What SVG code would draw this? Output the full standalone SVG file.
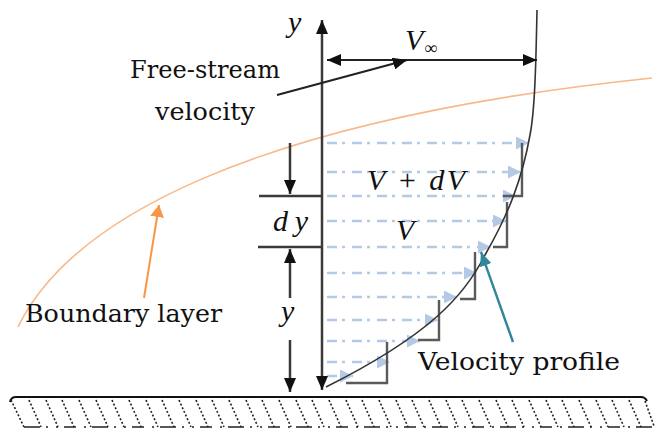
<svg xmlns="http://www.w3.org/2000/svg" width="655" height="433" viewBox="0 0 655 433">
<style>
.lbl{font-family:'DejaVu Serif',serif;font-size:23.5px;fill:#111}
.math{font-family:'Liberation Serif','Times New Roman',serif;font-style:italic;font-size:30px;fill:#111}
.ax{stroke:#3a3a3a;stroke-width:2.5;fill:none}
.blk{stroke:#222;stroke-width:2.2;fill:none}
.flow{stroke:#b4c9e6;stroke-width:2.6;fill:none;stroke-dasharray:10,5,3,7}
.step{stroke:#5a5a5a;stroke-width:2.4;fill:none}
.hatch{stroke:#222;stroke-width:1.6;stroke-dasharray:2,2;fill:none}
</style>
<defs>
<marker id="ab" viewBox="0 0 14 12" refX="14" refY="6" markerWidth="14" markerHeight="12" markerUnits="userSpaceOnUse" orient="auto-start-reverse"><path d="M0,0 L14,6 L0,12 z" fill="#111"/></marker>
<marker id="abl" viewBox="0 0 13 13" refX="13" refY="6.5" markerWidth="13" markerHeight="13" markerUnits="userSpaceOnUse" orient="auto"><path d="M0,0 L13,6.5 L0,13 z" fill="#b4c9e6"/></marker>
<marker id="aor" viewBox="0 0 12 14" refX="12" refY="7" markerWidth="12" markerHeight="14" markerUnits="userSpaceOnUse" orient="auto"><path d="M0,0 L12,7 L0,14 z" fill="#f79646"/></marker>
<marker id="atl" viewBox="0 0 14 12" refX="14" refY="6" markerWidth="14" markerHeight="12" markerUnits="userSpaceOnUse" orient="auto"><path d="M0,0 L14,6 L0,12 z" fill="#31859c"/></marker>
</defs>

<g id="ground">
<path d="M10,402 Q11,397 16,397 L641,397 Q645,397 647,401" stroke="#111" stroke-width="2" fill="none"/>
<path class="hatch" d="M11,400 L24,427 M29,400 L41,427 M46,400 L58,427 M62,400 L74,427 M79,400 L91,427 M96,400 L108,427 M112,400 L124,427 M129,400 L141,427 M146,400 L158,427 M162,400 L174,427 M179,400 L191,427 M196,400 L208,427 M212,400 L224,427 M229,400 L241,427 M246,400 L258,427 M262,400 L274,427 M279,400 L291,427 M296,400 L308,427 M312,400 L324,427 M329,400 L341,427 M346,400 L358,427 M362,400 L374,427 M379,400 L391,427 M396,400 L408,427 M412,400 L424,427 M429,400 L441,427 M446,400 L458,427 M462,400 L474,427 M479,400 L491,427 M496,400 L508,427 M512,400 L524,427 M529,400 L541,427 M546,400 L558,427 M562,400 L574,427 M579,400 L591,427 M596,400 L608,427 M612,400 L624,427 M629,400 L641,427 M645,401 L654,426"/>
<path d="M24,427 L654,427" stroke="#222" stroke-width="1.6" fill="none" stroke-dasharray="16,6,2,8,2,6,12,8,2,6"/>
</g>

<g id="boundary-layer">
<path d="M18,327 C70,220 250,120 652,78" stroke="#f8b88a" stroke-width="1.6" fill="none"/>
</g>

<g id="flow-arrows">
<path class="flow" d="M327,143 L529,143" marker-end="url(#abl)"/>
<path class="flow" d="M327,172 L521,172" marker-end="url(#abl)"/>
<path class="flow" d="M327,196 L516,196" marker-end="url(#abl)"/>
<path class="flow" d="M327,221 L506,221" marker-end="url(#abl)"/>
<path class="flow" d="M327,247 L491,247" marker-end="url(#abl)"/>
<path class="flow" d="M327,273 L477,273" marker-end="url(#abl)"/>
<path class="flow" d="M327,297 L457,297" marker-end="url(#abl)"/>
<path class="flow" d="M327,320 L438,320" marker-end="url(#abl)"/>
<path class="flow" d="M327,341 L420,341" marker-end="url(#abl)"/>
<path class="flow" d="M327,362 L390,362" marker-end="url(#abl)"/>
<path class="flow" d="M327,376 L353,376" marker-end="url(#abl)"/>
</g>

<g id="steps">
<path class="step" d="M522,143 L522,196 L503,196"/>
<path class="step" d="M507,202 L507,247 L493,247"/>
<path class="step" d="M475,252 L475,299 L460,299"/>
<path class="step" d="M439,300 L439,340 L418,340"/>
<path class="step" d="M387,342 L387,383 L346,383"/>
</g>

<g id="velocity-profile">
<path d="M537,10 C536,60 535,110 530,135 C522,180 508,215 485,255 C465,295 430,335 326,387" stroke="#333" stroke-width="1.6" fill="none"/>
</g>

<g id="connectors">
<line class="ax" x1="322" y1="390" x2="322" y2="20" marker-start="url(#ab)" marker-end="url(#ab)"/>
<line class="blk" x1="327" y1="60" x2="537" y2="60" marker-start="url(#ab)" marker-end="url(#ab)"/>
<line class="blk" x1="277" y1="95" x2="407" y2="60" marker-end="url(#ab)"/>
<line class="ax" x1="259" y1="196" x2="322" y2="196"/>
<line class="ax" x1="258" y1="247" x2="322" y2="247"/>
<line class="ax" x1="290" y1="143" x2="290" y2="194" marker-end="url(#ab)"/>
<line class="ax" x1="290" y1="298" x2="290" y2="249" marker-end="url(#ab)"/>
<line class="ax" x1="290" y1="340" x2="290" y2="392" marker-end="url(#ab)"/>
<line x1="144" y1="298" x2="159" y2="205" stroke="#f79646" stroke-width="2" marker-end="url(#aor)"/>
<line x1="513" y1="342" x2="481" y2="252" stroke="#31859c" stroke-width="2.4" marker-end="url(#atl)"/>
</g>

<g id="label-free-stream">
<text class="lbl" x="130" y="78" textLength="150" lengthAdjust="spacingAndGlyphs">Free-stream</text>
<text class="lbl" x="155" y="120" textLength="100" lengthAdjust="spacingAndGlyphs">velocity</text>
</g>
<g id="label-boundary-layer"><text class="lbl" x="25" y="322" textLength="197" lengthAdjust="spacingAndGlyphs">Boundary layer</text></g>
<g id="label-velocity-profile"><text class="lbl" x="418" y="370" textLength="202" lengthAdjust="spacingAndGlyphs">Velocity profile</text></g>
<g id="label-vinf"><text class="math" x="405" y="50">V<tspan dx="1" dy="4" font-style="normal" font-size="18">∞</tspan></text></g>
<g id="label-y-axis"><text class="math" x="288" y="32">y</text></g>
<g id="label-v-dv"><text class="math" x="367" y="190" textLength="98" lengthAdjust="spacing">V + dV</text></g>
<g id="label-v"><text class="math" x="396" y="240">V</text></g>
<g id="label-dy"><text class="math" x="273" y="231" textLength="35" lengthAdjust="spacing">dy</text></g>
<g id="label-y"><text class="math" x="281" y="321">y</text></g>
</svg>
